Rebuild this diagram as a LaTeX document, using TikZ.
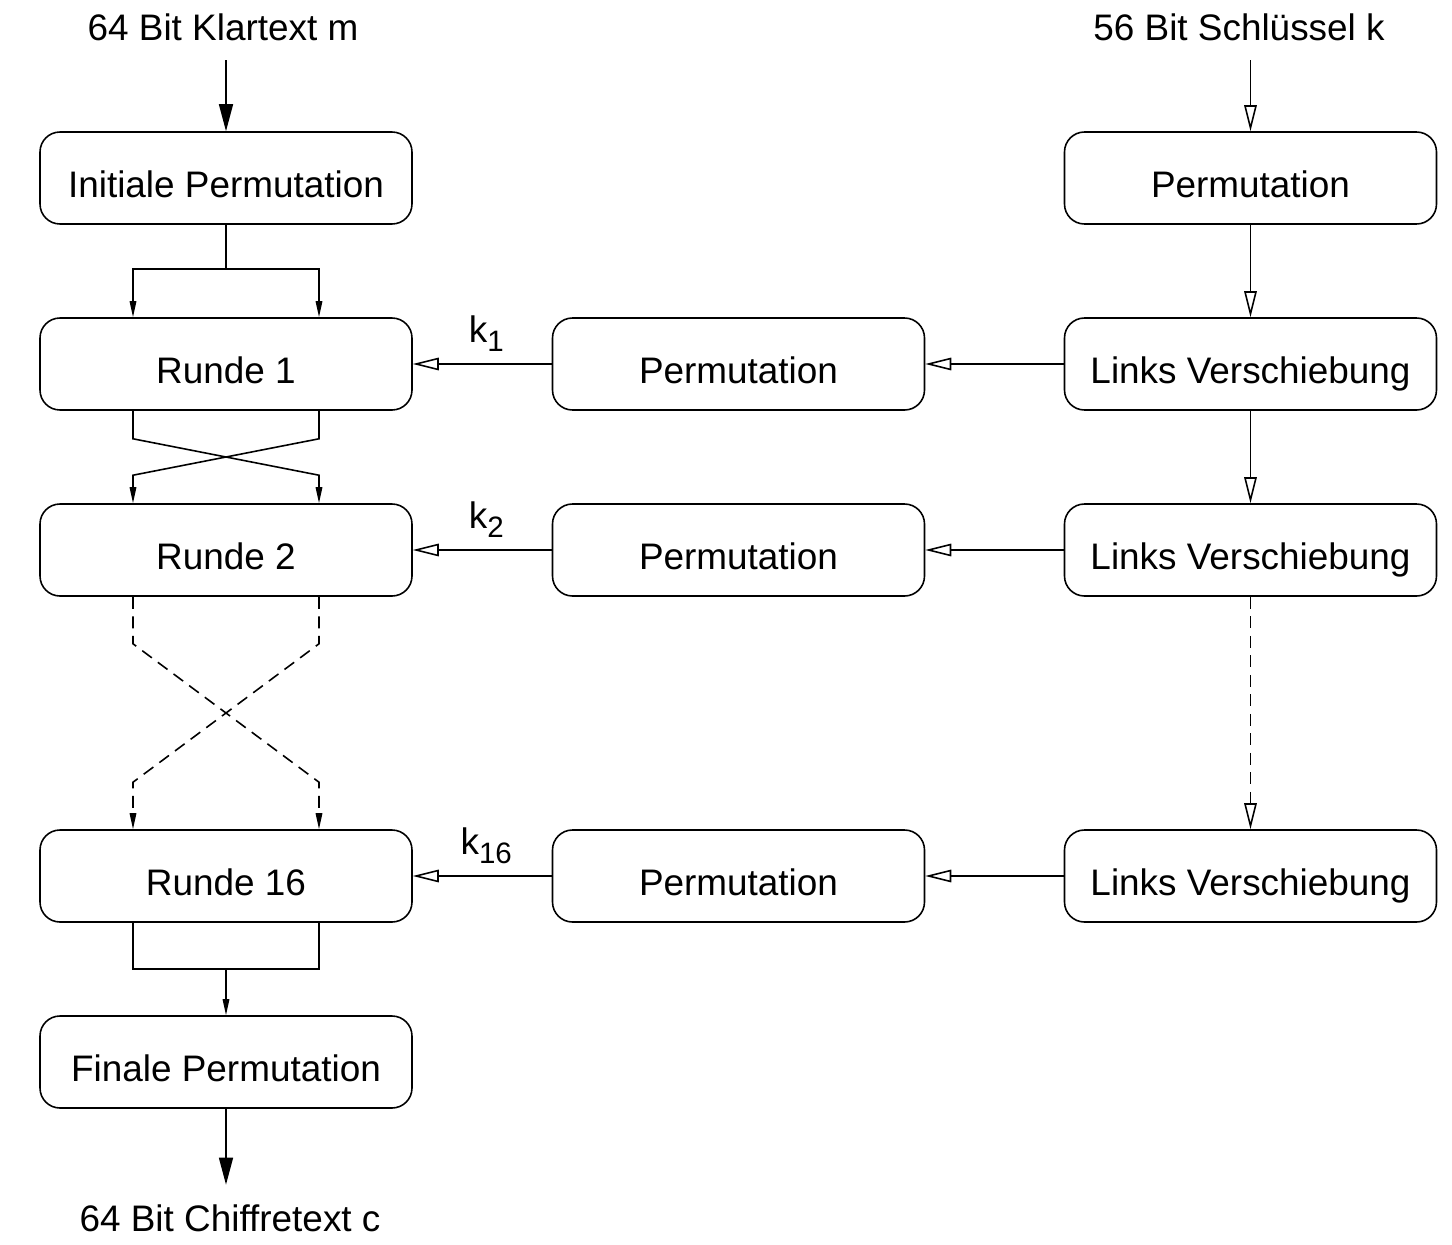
\documentclass[tikz,border=0pt]{standalone}
\usepackage{fontspec}
\setmainfont{Liberation Sans}
\usetikzlibrary{calc}
\usetikzlibrary{arrows.meta}

\newcommand{\ksub}[1]{k\raisebox{-2.6pt}{\fontsize{8.4}{9}\selectfont #1}}

\tikzset{
  kasten/.style={draw, rounded corners=2mm, minimum width=3.72cm, minimum height=0.92cm, inner sep=0pt,
    text height=3.9mm, text depth=0pt},
  io/.style={inner sep=1.9mm},
  grossspitze/.style={-{Triangle[length=2.7mm,width=1.4mm]}},
  keyspitze/.style={-{Triangle[open,length=2.6mm,width=1.25mm]}},
  kleinspitze/.style={-{Triangle[length=1.6mm,width=0.65mm]}},
  gestrichelt/.style={dash pattern=on 1.2mm off 0.75mm},
}

\begin{document}
\begin{tikzpicture}[line width=0.45pt, font=\fontsize{10.5}{12.6}\selectfont]
  \useasboundingbox (0,0) rectangle (14.52,-12.44);
  % Klartext-Seite
  \node[io] (m) at (2.23,-0.27) {64 Bit Klartext m};
  \node[kasten] (ip) at (2.26,-1.78) {Initiale Permutation};
  \node[kasten] (r1) at (2.26,-3.64) {Runde 1};
  \node[kasten] (r2) at (2.26,-5.50) {Runde 2};
  \node[kasten] (r16) at (2.26,-8.76) {Runde 16};
  \node[kasten] (fp) at (2.26,-10.62) {Finale Permutation};
  \node[io] (c) at (2.30,-12.18) {64 Bit Chiffretext c};
  % Schluessel-Seite
  \node[io] (k) at (12.39,-0.27) {56 Bit Schlüssel k};
  \node[kasten] (kp) at (12.505,-1.78) {Permutation};
  \node[kasten] (ls1) at (12.505,-3.64) {Links Verschiebung};
  \node[kasten] (ls2) at (12.505,-5.50) {Links Verschiebung};
  \node[kasten] (ls16) at (12.505,-8.76) {Links Verschiebung};
  \node[kasten] (p1) at (7.385,-3.64) {Permutation};
  \node[kasten] (p2) at (7.385,-5.50) {Permutation};
  \node[kasten] (p16) at (7.385,-8.76) {Permutation};

  % Eingaenge / Ausgang
  \draw[grossspitze] (ip.north |- m.south) -- (ip.north);
  \draw[grossspitze] (fp.south) -- (fp.south |- c.north);
  \draw[keyspitze] (kp.north |- k.south) -- (kp.north);

  % Aufteilung nach der initialen Permutation
  \coordinate (r1l) at ($(r1.north)+(-0.93,0)$);
  \coordinate (r1r) at ($(r1.north)+(0.93,0)$);
  \draw[kleinspitze] (ip.south) |- ($(r1l)+(0,0.48)$) -- (r1l);
  \draw[kleinspitze] (ip.south) |- ($(r1r)+(0,0.48)$) -- (r1r);

  % Kreuzung Runde 1 -> Runde 2
  \coordinate (r1ul) at ($(r1.south)+(-0.93,0)$);
  \coordinate (r1ur) at ($(r1.south)+(0.93,0)$);
  \coordinate (r2l) at ($(r2.north)+(-0.93,0)$);
  \coordinate (r2r) at ($(r2.north)+(0.93,0)$);
  \draw[kleinspitze] (r1ul) -- ++(0,-0.28) -- ($(r2r)+(0,0.28)$) -- (r2r);
  \draw[kleinspitze] (r1ur) -- ++(0,-0.28) -- ($(r2l)+(0,0.28)$) -- (r2l);

  % Kreuzung Runde 2 -> Runde 16 (gestrichelt)
  \coordinate (r2ul) at ($(r2.south)+(-0.93,0)$);
  \coordinate (r2ur) at ($(r2.south)+(0.93,0)$);
  \coordinate (r16l) at ($(r16.north)+(-0.93,0)$);
  \coordinate (r16r) at ($(r16.north)+(0.93,0)$);
  \draw[kleinspitze, gestrichelt] (r2ul) -- ++(0,-0.47) -- ($(r16r)+(0,0.47)$) -- (r16r);
  \draw[kleinspitze, gestrichelt] (r2ur) -- ++(0,-0.47) -- ($(r16l)+(0,0.47)$) -- (r16l);

  % Zusammenfuehrung nach Runde 16
  \coordinate (r16ul) at ($(r16.south)+(-0.93,0)$);
  \coordinate (r16ur) at ($(r16.south)+(0.93,0)$);
  \draw (r16ul) -- ++(0,-0.46) -| (r16ur);
  \draw[kleinspitze] (fp.north |- 0,-9.68) -- (fp.north);

  % Schluesselpfad
  \draw[keyspitze] (kp.south) -- (ls1.north);
  \draw[keyspitze] (ls1.south) -- (ls2.north);
  \draw[keyspitze, gestrichelt] (ls2.south) -- (ls16.north);
  \draw[keyspitze] (ls1.west) -- (p1.east);
  \draw[keyspitze] (ls2.west) -- (p2.east);
  \draw[keyspitze] (ls16.west) -- (p16.east);
  \draw[keyspitze] (p1.west) -- (r1.east) node[midway, above, xshift=0.4mm] {\ksub{1}};
  \draw[keyspitze] (p2.west) -- (r2.east) node[midway, above, xshift=0.4mm] {\ksub{2}};
  \draw[keyspitze] (p16.west) -- (r16.east) node[midway, above, xshift=0.4mm] {\ksub{16}};
\end{tikzpicture}
\end{document}
